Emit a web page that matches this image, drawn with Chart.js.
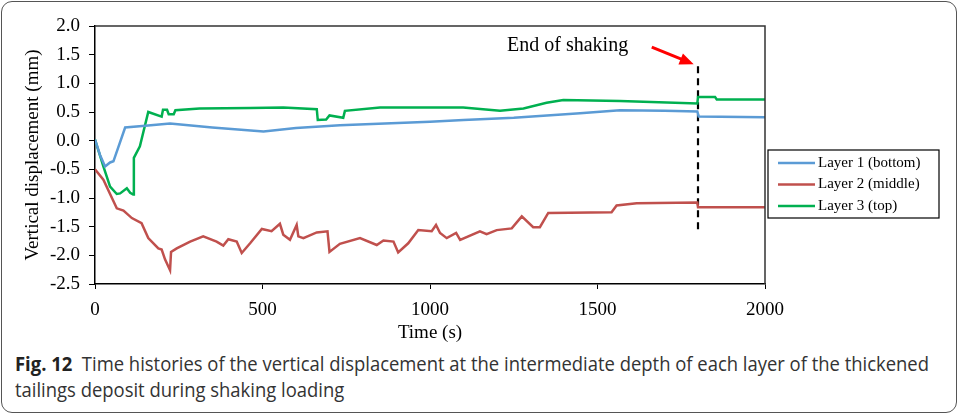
<!DOCTYPE html>
<html>
<head>
<meta charset="utf-8">
<script src="https://cdn.jsdelivr.net/npm/chart.js@4.4.1/dist/chart.umd.min.js"></script>
<style>
  body { margin: 0; background: #fff; }
  #frame { position: absolute; left: 1px; top: 1px; width: 954px; height: 410px; border: 1.5px solid #555; border-radius: 11px; }
  #wrap { position: absolute; left: 0; top: 0; width: 959px; height: 345px; }
  .cap { position: absolute; left: 15px; white-space: nowrap; font-family: "Open Sans", sans-serif; font-size: 20px; color: #333; transform-origin: 0 0; }
  .cap b { color: #222; }
</style>
</head>
<body>
<div id="frame"></div>
<div id="wrap"><canvas id="myChart" width="959" height="345"></canvas></div>
<div class="cap" id="cap1" style="top:350px"><b>Fig. 12</b>&nbsp;&nbsp;Time histories of the vertical displacement at the intermediate depth of each layer of the thickened</div>
<div class="cap" id="cap2" style="top:376px">tailings deposit during shaking loading</div>
<script>
// series (time in s, displacement in mm)
var layer1Time = [0, 15, 30, 45, 55, 90, 150, 224, 350, 503, 600, 731, 1000, 1100, 1250, 1448, 1567, 1700, 1798, 1802, 2000];
var layer1Disp = [0.02, -0.25, -0.45, -0.38, -0.36, 0.23, 0.26, 0.30, 0.23, 0.16, 0.22, 0.27, 0.33, 0.36, 0.40, 0.48, 0.53, 0.52, 0.51, 0.42, 0.41];

var layer2Time = [0, 25, 65, 85, 110, 139, 159, 189, 199, 209, 224, 227, 244, 284, 323, 363, 383, 398, 423, 438,
	463, 498, 527, 552, 562, 582, 602, 607, 622, 662, 694, 700, 731, 791, 841, 861, 891, 905, 935, 965,
	1005, 1018, 1030, 1050, 1078, 1090, 1149, 1169, 1199, 1244, 1274, 1308, 1328, 1353, 1542, 1557, 1617, 1798, 1800, 2000];
var layer2Disp = [-0.50, -0.68, -1.18, -1.22, -1.35, -1.44, -1.70, -1.88, -1.90, -2.07, -2.26, -1.94, -1.88, -1.76, -1.67, -1.76, -1.83, -1.72, -1.76, -1.96,
	-1.79, -1.54, -1.58, -1.45, -1.64, -1.73, -1.47, -1.67, -1.70, -1.60, -1.58, -1.94, -1.80, -1.70, -1.82, -1.74, -1.76, -1.95, -1.79, -1.56,
	-1.58, -1.47, -1.61, -1.70, -1.61, -1.73, -1.58, -1.63, -1.56, -1.53, -1.32, -1.51, -1.51, -1.26, -1.25, -1.13, -1.09, -1.08, -1.16, -1.16];

var layer3Time = [0, 25, 45, 65, 75, 95, 105, 114, 116, 134, 159, 199, 203, 215, 220, 235, 240, 312, 463, 562,
	662, 665, 690, 700, 741, 746, 851, 1000, 1099, 1209, 1279, 1348, 1398, 1567, 1798, 1800, 1851, 1856, 2000];
var layer3Disp = [0.02, -0.45, -0.80, -0.93, -0.92, -0.83, -0.91, -0.94, -0.30, -0.10, 0.50, 0.42, 0.54, 0.54, 0.46, 0.46, 0.53, 0.56, 0.57, 0.58,
	0.55, 0.36, 0.37, 0.44, 0.40, 0.52, 0.58, 0.58, 0.58, 0.52, 0.56, 0.66, 0.71, 0.69, 0.65, 0.76, 0.76, 0.72, 0.72];

var seriesNames = ["Layer 1 (bottom)", "Layer 2 (middle)", "Layer 3 (top)"];
var seriesColors = ["#5B9BD5", "#C0504D", "#00B050"];

// end of shaking marker, arrow and label
var shakeEndTime = 1800;
var shakeLineDisp = [1.30, -1.58];
var arrowTime = [1662, 1776];
var arrowDisp = [1.63, 1.36];
var noteText = "End of shaking";
var notePos = [1230, 1.57];

var xTicks = [0, 500, 1000, 1500, 2000];

function pts(t, v) {
	var out = [];
	for (var i = 0; i < t.length; i++) out.push({ x: t[i], y: v[i] });
	return out;
}

var serif = "'Liberation Serif', 'Times New Roman', serif";

var framePlugin = {
	id: "framePlugin",
	afterDraw: function(chart) {
		var ctx = chart.ctx, a = chart.chartArea;
		var xs = chart.scales.x, ys = chart.scales.y;
		ctx.save();
		// top and right frame of the plot
		ctx.strokeStyle = "#333";
		ctx.lineWidth = 1.5;
		ctx.beginPath();
		ctx.moveTo(a.left, a.top);
		ctx.lineTo(a.right, a.top);
		ctx.lineTo(a.right, a.bottom);
		ctx.stroke();

		// arrowhead
		var x0 = xs.getPixelForValue(arrowTime[0]), y0 = ys.getPixelForValue(arrowDisp[0]);
		var x1 = xs.getPixelForValue(arrowTime[1]), y1 = ys.getPixelForValue(arrowDisp[1]);
		var ang = Math.atan2(y1 - y0, x1 - x0);
		ctx.fillStyle = "#FF0000";
		ctx.beginPath();
		ctx.moveTo(x1 + 4 * Math.cos(ang), y1 + 4 * Math.sin(ang));
		ctx.lineTo(x1 - 10 * Math.cos(ang) - 6 * Math.sin(ang), y1 - 10 * Math.sin(ang) + 6 * Math.cos(ang));
		ctx.lineTo(x1 - 10 * Math.cos(ang) + 6 * Math.sin(ang), y1 - 10 * Math.sin(ang) - 6 * Math.cos(ang));
		ctx.closePath();
		ctx.fill();

		// note
		ctx.fillStyle = "#000";
		ctx.font = "20px " + serif;
		ctx.textBaseline = "alphabetic";
		ctx.fillText(noteText, xs.getPixelForValue(notePos[0]), ys.getPixelForValue(notePos[1]));

		// legend box
		var lx = 768, ly = 150, lw = 171, lh = 68;
		ctx.fillStyle = "#fff";
		ctx.fillRect(lx, ly, lw, lh);
		ctx.strokeStyle = "#000";
		ctx.lineWidth = 1.2;
		ctx.strokeRect(lx, ly, lw, lh);
		ctx.font = "15px " + serif;
		ctx.textBaseline = "middle";
		for (var i = 0; i < seriesNames.length; i++) {
			var yy = ly + 13 + i * 21.5;
			ctx.strokeStyle = seriesColors[i];
			ctx.lineWidth = 2.5;
			ctx.beginPath();
			ctx.moveTo(778, yy);
			ctx.lineTo(815, yy);
			ctx.stroke();
			ctx.fillStyle = "#000";
			ctx.fillText(seriesNames[i], 818, yy);
		}
		ctx.restore();
	}
};

var ctx = document.getElementById("myChart").getContext("2d");
var chart = new Chart(ctx, {
	type: "line",
	data: {
		datasets: [{
			label: seriesNames[0],
			data: pts(layer1Time, layer1Disp),
			borderColor: seriesColors[0],
			borderWidth: 2.5
		}, {
			label: seriesNames[1],
			data: pts(layer2Time, layer2Disp),
			borderColor: seriesColors[1],
			borderWidth: 2.5
		}, {
			label: seriesNames[2],
			data: pts(layer3Time, layer3Disp),
			borderColor: seriesColors[2],
			borderWidth: 2.5
		}, {
			label: "end",
			data: pts([shakeEndTime, shakeEndTime], shakeLineDisp),
			borderColor: "#000",
			borderWidth: 2.2,
			borderDash: [7, 5]
		}, {
			label: "arrow",
			data: pts(arrowTime, arrowDisp),
			borderColor: "#FF0000",
			borderWidth: 3
		}]
	},
	options: {
		responsive: false,
		animation: false,
		devicePixelRatio: 1,
		layout: { padding: { left: 0, right: 194, top: 26, bottom: 0 } },
		elements: { point: { radius: 0 }, line: { tension: 0 } },
		plugins: { legend: { display: false }, tooltip: { enabled: false } },
		scales: {
			x: {
				type: "linear",
				min: 0,
				max: 2000,
				afterFit: function(s) { s.height = 61; },
				afterBuildTicks: function(s) { s.ticks = xTicks.map(function(v) { return { value: v }; }); },
				grid: { drawOnChartArea: false, drawTicks: true, tickLength: 5, color: "#000" },
				border: { color: "#000", width: 1.5 },
				ticks: {
					color: "#000",
					font: { family: serif, size: 19 },
					padding: 10,
					maxRotation: 0,
					callback: function(v) { return String(v); }
				},
				title: { display: true, text: "Time (s)", color: "#000", font: { family: serif, size: 19 }, padding: { top: 0, bottom: 1 } }
			},
			y: {
				min: -2.5,
				max: 2.0,
				afterFit: function(s) { s.width = 95; },
				grid: { drawOnChartArea: false, drawTicks: true, tickLength: 6, color: "#000" },
				border: { color: "#000", width: 1.5 },
				ticks: {
					stepSize: 0.5,
					color: "#000",
					font: { family: serif, size: 19 },
					padding: 9,
					callback: function(v) { return v.toFixed(1); }
				},
				title: { display: true, text: "Vertical displacement (mm)", color: "#000", font: { family: serif, size: 19 }, padding: { top: 22, bottom: 0 } }
			}
		}
	},
	plugins: [framePlugin]
});

// squeeze the caption to the condensed width of the original
var c1 = document.getElementById("cap1"), c2 = document.getElementById("cap2");
var k = 914 / c1.getBoundingClientRect().width;
c1.style.transform = "scaleX(" + k + ")";
c2.style.transform = "scaleX(" + k + ")";
</script>
</body>
</html>
